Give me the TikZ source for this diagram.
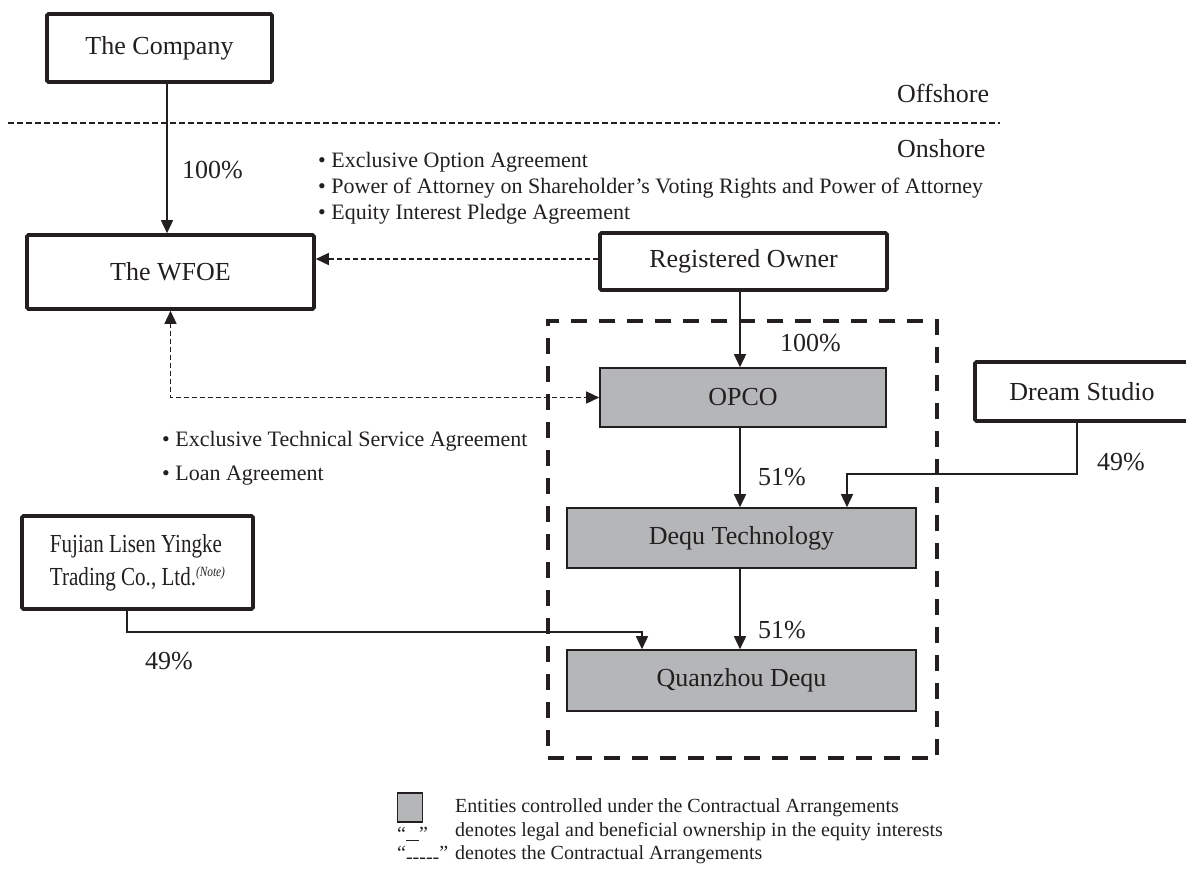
\documentclass[tikz,border=0pt]{standalone}
\usepackage{fontspec}
\usepackage{graphicx}
\setmainfont{Liberation Serif}
\usetikzlibrary{arrows.meta,calc}
\definecolor{ink}{RGB}{35,31,32}
\definecolor{boxgray}{RGB}{181,182,184}
\tikzset{
  big/.style={font=\fontsize{26}{30}\selectfont, text=ink},
  small/.style={font=\fontsize{20}{26}\selectfont, text=ink},
  agree/.style={font=\fontsize{22}{26}\selectfont, text=ink},
  entbox/.style={draw=ink, line width=3.6pt, rounded corners=1.5pt, big, inner sep=0pt},
  ctlbox/.style={draw=ink, line width=1.6pt, fill=boxgray, big, inner sep=0pt},
  own/.style={draw=ink, line width=1.5pt, -{Triangle[length=13pt,width=12pt]}},
  contract/.style={draw=ink, line width=1.5pt, dash pattern=on 5pt off 3pt, -{Triangle[length=13pt,width=12pt]}},
  lbl/.style={big, inner sep=0pt}
}
\begin{document}
\begin{tikzpicture}[x=1pt,y=-1pt]
\useasboundingbox (0,0) rectangle (1186,868);

% boxes
\node[entbox, minimum width=225, minimum height=68] (company) at (159.5,48) {The Company};
\node[entbox, minimum width=287, minimum height=74] (wfoe) at (170.5,272) {The WFOE};
\node[entbox, minimum width=287, minimum height=57] (ro) at (743.5,261.5) {Registered Owner};
\node[entbox, minimum width=214, minimum height=59] (dream) at (1082,391.5) {Dream Studio};
\node[entbox, minimum width=231, minimum height=93] (fujian) at (137.5,562.5)
  {\begin{tabular}{@{}l@{}}\scalebox{0.81}[1]{Fujian Lisen Yingke}\\[3pt]\scalebox{0.81}[1]{Trading Co., Ltd.\raisebox{9pt}{\fontsize{14}{14}\selectfont\itshape (Note)}}\end{tabular}};

\node[ctlbox, minimum width=286, minimum height=59] (opco) at (743,397.5) {OPCO};
\node[ctlbox, minimum width=349, minimum height=60] (deq) at (741.5,538) {Dequ Technology};
\node[ctlbox, minimum width=349, minimum height=61] (qz) at (741.5,680.5) {Quanzhou Dequ};

% dashed boundary around controlled entities
\node[draw=ink, line width=4.2pt, dash pattern=on 16pt off 12pt, minimum width=389, minimum height=437, inner sep=0pt] (vie) at (742.5,539.5) {};

% offshore / onshore
\coordinate (shoreL) at (8,123);
\coordinate (shoreR) at (1000,123);
\draw[ink, line width=1.4pt, dash pattern=on 6pt off 3pt] (shoreL) -- (shoreR);
\node[lbl, anchor=west] (off) at (897,93) {Offshore};
\node[lbl, anchor=west] (on) at (897,149) {Onshore};

% ownership connectors
\draw[own] ([xshift=7.5pt]company.south) -- ([xshift=7.5pt]company.south |- wfoe.north);
\node[lbl, anchor=west] (p100a) at (182,170) {100\%};

\draw[own] ([xshift=-3.5pt]ro.south) -- ([xshift=-3.5pt]ro.south |- opco.north);
\node[lbl, anchor=west] (p100b) at (780,343) {100\%};

\draw[own] ([xshift=-3pt]opco.south) -- ([xshift=-3pt]opco.south |- deq.north);
\node[lbl, anchor=west] (p51a) at (758,477) {51\%};

\draw[own] ([xshift=-1.5pt]deq.south) -- ([xshift=-1.5pt]deq.south |- qz.north);
\node[lbl, anchor=west] (p51b) at (758,630) {51\%};

\draw[own] ([xshift=-5pt]dream.south) -- ++(0,51) -| ([xshift=105.5pt]deq.north);
\node[lbl, anchor=west] (p49a) at (1097,462) {49\%};

\draw[own] ([xshift=-10.5pt]fujian.south) -- ++(0,21) -| ([xshift=-99.5pt]qz.north);
\node[lbl, anchor=west] (p49b) at (145,661) {49\%};

% contractual connectors
\draw[contract] ([yshift=2.5pt]ro.west) -- ([yshift=2.5pt]ro.west -| wfoe.east);
\draw[contract, {Triangle[length=13pt,width=12pt]}-{Triangle[length=13pt,width=12pt]}] (wfoe.south) |- (opco.west);

\node[agree, anchor=west, align=left, inner sep=0pt] (agr1) at (318,188.5)
  {• Exclusive Option Agreement\\
   • Power of Attorney on Shareholder’s Voting Rights and Power of Attorney\\
   • Equity Interest Pledge Agreement};
\node[agree, anchor=west, align=left, inner sep=0pt, font=\fontsize{22}{34}\selectfont] (agr2) at (162,458)
  {• Exclusive Technical Service Agreement\\
   • Loan Agreement};

% legend
\node[ctlbox, minimum width=25, minimum height=29] (legbox) at (410,807.5) {};
\node[small, anchor=west, inner sep=0pt] (legtxt1) at (455,808) {Entities controlled under the Contractual Arrangements};
\node[small, anchor=west, inner sep=0pt] (legsym2) at (397,834) {“\rule[-1pt]{13pt}{0.8pt}”};
\node[small, anchor=west, inner sep=0pt] (legtxt2) at (455,832) {denotes legal and beneficial ownership in the equity interests};
\node[small, anchor=west, inner sep=0pt] (legsym3) at (397,855) {“\raisebox{-4pt}{-{}-{}-{}-{}-}”};
\node[small, anchor=west, inner sep=0pt] (legtxt3) at (455,855) {denotes the Contractual Arrangements};
\end{tikzpicture}
\end{document}
